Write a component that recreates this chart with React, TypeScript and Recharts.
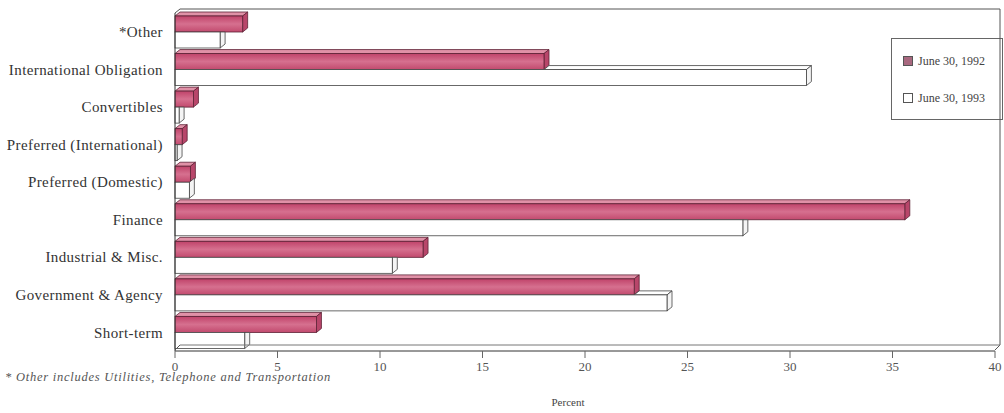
import React from 'react';
import { BarChart, Bar, XAxis, YAxis, Legend } from 'recharts';

const categories = [
  '*Other',
  'International Obligation',
  'Convertibles',
  'Preferred (International)',
  'Preferred (Domestic)',
  'Finance',
  'Industrial & Misc.',
  'Government & Agency',
  'Short-term',
];
const june1992 = [3.3, 18.0, 0.9, 0.35, 0.75, 35.6, 12.1, 22.4, 6.9];
const june1993 = [2.2, 30.8, 0.2, 0.1, 0.7, 27.7, 10.6, 24.0, 3.4];
const percentTicks = [0, 5, 10, 15, 20, 25, 30, 35, 40];

const data = categories.map((name, i) => ({
  name,
  y1992: june1992[i],
  y1993: june1993[i],
}));

const FONT = '"Liberation Serif", "DejaVu Serif", serif';
const DX = 5;
const DY = 4;

const pts = (p: number[][]) => p.map(([a, b]) => `${a},${b}`).join(' ');

// front face + top face + right face, depth going up and right
const Bar92 = (props: any) => {
  const { x, y, width, height } = props;
  if (width <= 0) return null;
  return (
    <g>
      <polygon
        points={pts([[x, y], [x + DX, y - DY], [x + width + DX, y - DY], [x + width, y]])}
        fill="#e091a7"
        stroke="#5e2236"
        strokeWidth={0.8}
      />
      <polygon
        points={pts([[x + width, y], [x + width + DX, y - DY], [x + width + DX, y + height - DY], [x + width, y + height]])}
        fill="#b8466a"
        stroke="#5e2236"
        strokeWidth={0.8}
      />
      <rect x={x} y={y} width={width} height={height} fill="url(#g92)" stroke="#5e2236" strokeWidth={0.8} />
    </g>
  );
};

// the 1993 bar sits behind the 1992 bar, so its top face is hidden wherever the 1992 bar reaches
const Bar93 = (props: any) => {
  const { x, y, width, height, payload, value } = props;
  const v = Array.isArray(value) ? value[1] : value;
  if (width <= 0) return null;
  const pxPerUnit = v > 0 ? width / v : 0;
  const end92 = x + payload.y1992 * pxPerUnit;
  const right = x + width;
  const xs = Math.max(x, end92);
  const hidden = end92 >= right + DX;
  return (
    <g>
      {xs < right && (
        <polygon
          points={pts([[xs, y], [xs + DX, y - DY], [right + DX, y - DY], [right, y]])}
          fill="#ffffff"
          stroke="#444"
          strokeWidth={0.8}
        />
      )}
      <polygon
        points={
          hidden
            ? pts([[right, y], [right + DX, y], [right + DX, y + height - DY], [right, y + height]])
            : pts([[right, y], [right + DX, y - DY], [right + DX, y + height - DY], [right, y + height]])
        }
        fill="#f4f4f4"
        stroke="#444"
        strokeWidth={0.8}
      />
      <rect x={x} y={y} width={width} height={height} fill="#ffffff" stroke="#444" strokeWidth={0.8} />
    </g>
  );
};

const legendFill: Record<string, string> = { y1992: '#a8687f', y1993: '#ffffff' };

const LegendBox = (props: any) => {
  const items = props.payload || [];
  return (
    <div
      style={{
        border: '1px solid #666',
        background: '#fff',
        width: 112,
        height: 82,
        boxSizing: 'border-box',
        fontFamily: FONT,
        fontSize: 12,
        color: '#444',
        paddingTop: 12,
        textAlign: 'left',
      }}
    >
      {items.map((it: any) => (
        <div key={it.value} style={{ display: 'flex', alignItems: 'center', marginLeft: 11, height: 20, marginBottom: 17 }}>
          <span
            style={{
              display: 'inline-block',
              width: 8,
              height: 8,
              border: '1px solid #555',
              background: legendFill[it.dataKey],
              marginRight: 5,
            }}
          />
          {it.value}
        </div>
      ))}
    </div>
  );
};

export default function App() {
  return (
    <div style={{ position: 'absolute', left: 0, top: 0, width: 1004, height: 413, background: '#fff' }}>
      <BarChart
        width={1004}
        height={413}
        data={data}
        layout="vertical"
        margin={{ top: 13, right: 9, bottom: 5, left: 0 }}
        barGap={0}
        barSize={16}
      >
        <defs>
          <linearGradient id="g92" x1="0" y1="0" x2="0" y2="1">
            <stop offset="0%" stopColor="#c0436a" />
            <stop offset="50%" stopColor="#d6708f" />
            <stop offset="100%" stopColor="#c24a6e" />
          </linearGradient>
        </defs>
        <XAxis
          type="number"
          domain={[0, 40]}
          ticks={percentTicks}
          height={57}
          tickSize={7}
          tickMargin={4}
          axisLine={{ stroke: '#333' }}
          tickLine={{ stroke: '#666' }}
          tick={{ fill: '#555', fontSize: 13, fontFamily: FONT }}
          label={{ value: 'Percent', position: 'insideBottom', offset: 2, dx: -17, fill: '#444', fontSize: 11, fontFamily: FONT }}
        />
        <YAxis
          type="category"
          dataKey="name"
          width={175}
          axisLine={{ stroke: '#333' }}
          tickLine={false}
          tickMargin={6}
          tick={{ fill: '#333', fontSize: 15, fontFamily: FONT, letterSpacing: 0.4 }}
        />
        <Legend
          layout="vertical"
          verticalAlign="middle"
          align="center"
          content={<LegendBox />}
          wrapperStyle={{ left: 891, top: 38, width: 112 }}
        />
        <Bar dataKey="y1992" name="June 30, 1992" shape={<Bar92 />} isAnimationActive={false} />
        <Bar dataKey="y1993" name="June 30, 1993" shape={<Bar93 />} isAnimationActive={false} />
      </BarChart>
      {/* back wall and floor edges of the 3D frame */}
      <svg width={1004} height={413} style={{ position: 'absolute', left: 0, top: 0, pointerEvents: 'none' }}>
        <polyline points="175,13 180,9 1000,9 1000,345 995,350" fill="none" stroke="#555" strokeWidth={1} />
        <line x1={180} y1={345} x2={1000} y2={345} stroke="#777" strokeWidth={1} />
        <line x1={175} y1={350} x2={180} y2={345} stroke="#555" strokeWidth={1} />
      </svg>
      <div
        style={{
          position: 'absolute',
          left: 5,
          top: 370,
          fontFamily: FONT,
          fontStyle: 'italic',
          fontSize: 12.5,
          letterSpacing: 0.75,
          color: '#555',
          whiteSpace: 'nowrap',
        }}
      >
        * Other includes Utilities, Telephone and Transportation
      </div>
    </div>
  );
}
